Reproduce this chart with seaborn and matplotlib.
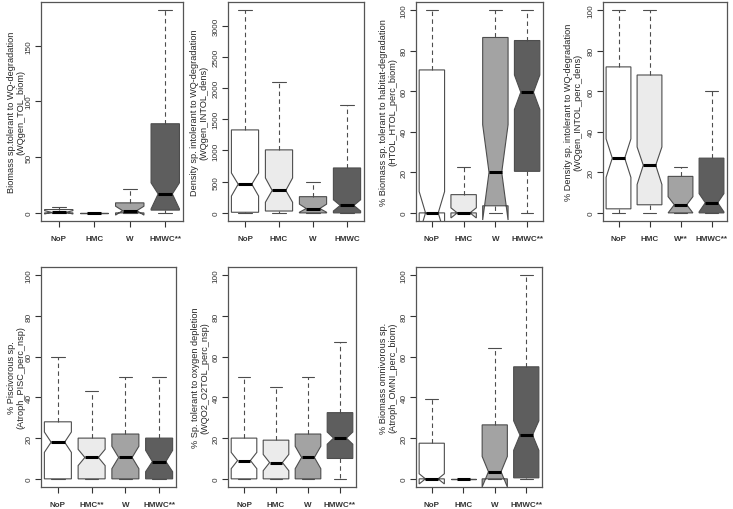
import matplotlib
matplotlib.use("Agg")
import matplotlib.pyplot as plt
import seaborn as sns

# ---- data (box statistics per panel, groups NoP/HMC/W/HMWC) ----
group_labels = [
    ["NoP", "HMC", "W", "HMWC**"],
    ["NoP", "HMC", "W", "HMWC"],
    ["NoP", "HMC", "W", "HMWC**"],
    ["NoP", "HMC", "W**", "HMWC**"],
    ["NoP", "HMC**", "W", "HMWC**"],
    ["NoP", "HMC", "W", "HMWC**"],
    ["NoP", "HMC", "W", "HMWC**"],
]
y_titles = [
    "Biomass sp.tolerant to WQ-degradation\n(WQgen_TOL_biom)",
    "Density sp. intolerant to WQ-degradation\n(WQgen_INTOL_dens)",
    "% Biomass sp. tolerant to habitat-degradation\n(HTOL_HTOL_perc_biom)",
    "% Density sp. intolerant to WQ-degradation\n(WQgen_INTOL_perc_dens)",
    "% Piscivorous sp.\n(Atroph_PISC_perc_nsp)",
    "% Sp. tolerant to oxygen depletion\n(WQO2_O2TOL_perc_nsp)",
    "% Biomass omnivorous sp.\n(Atroph_OMNI_perc_biom)",
]
y_ticks = [
    [0, 50, 100, 150],
    [0, 500, 1000, 1500, 2000, 2500, 3000],
    [0, 20, 40, 60, 80, 100],
    [0, 20, 40, 60, 80, 100],
    [0, 20, 40, 60, 80, 100],
    [0, 20, 40, 60, 80, 100],
    [0, 20, 40, 60, 80, 100],
]
y_range = [(0, 182), (0, 3250), (0, 100), (0, 100), (0, 100), (0, 100), (0, 100)]

medians = [
    [0.5, 0, 2, 17],
    [460, 360, 70, 120],
    [0, 0, 20, 59.5],
    [27, 23.5, 4, 5],
    [18, 10.5, 10.5, 8.5],
    [9, 8, 10.5, 20],
    [0, 0, 3.5, 21.5],
]
lower_q = [
    [0, 0, 0, 2.5],
    [10, 30, 0, 0],
    [0, 0, 3.5, 20.5],
    [2, 4, 0, 0],
    [0, 0, 0, 0],
    [0, 0, 0, 10],
    [0, 0, 0, 0.5],
]
upper_q = [
    [3, 0, 9, 80],
    [1330, 1010, 260, 720],
    [70.5, 9, 86.5, 85],
    [72, 68, 18, 27],
    [28, 20, 22, 20],
    [20, 19, 22, 32.5],
    [17.5, 0, 26.5, 55],
]
whisker_lo = [
    [0, 0, 0, 0],
    [0, 0, 0, 0],
    [0, 0, 0, 0],
    [0, 0, 0, 0],
    [0, 0, 0, 0],
    [0, 0, 0, 0],
    [0, 0, 0, 0],
]
whisker_hi = [
    [5, 0, 21, 182],
    [3250, 2100, 500, 1730],
    [100, 22.5, 100, 100],
    [100, 100, 22.5, 60],
    [60, 43, 50, 50],
    [50, 45, 50, 67],
    [39, 0, 64, 100],
]
notch_lo = [
    [-1, 0, -2, 3.5],
    [270, 170, 10, 30],
    [-10.5, -2.5, -3.5, 51],
    [17.5, 14, 0, 0.5],
    [13, 6.5, 5, 3.5],
    [5, 4, 5, 17],
    [-2.5, 0, -4, 14],
]
notch_hi = [
    [2, 0, 6, 27],
    [640, 560, 140, 210],
    [10.5, 2.5, 43.5, 68],
    [36.5, 32.5, 8, 9.5],
    [23, 14.5, 16, 14],
    [13, 12, 16, 23],
    [2.5, 0, 11, 28.5],
]

box_colors = ["#FFFFFF", "#EBEBEB", "#A3A3A3", "#5E5E5E"]

# axes frames in pixels: left, top, right, bottom
frames = [
    (41, 3, 183, 222),
    (228, 3, 364, 222),
    (416, 3, 543, 222),
    (603, 3, 727, 222),
    (41, 268, 176, 488),
    (228, 268, 356, 488),
    (416, 268, 542, 488),
]
# gap (px) between frame and right edge of the y-title block
title_gap = [16, 20, 19, 21, 16, 19, 19]

sns.set_style("ticks")
plt.rcParams["font.family"] = ["Liberation Sans", "DejaVu Sans"]

W, H = 733, 510
fig = plt.figure(figsize=(W / 100, H / 100), dpi=100)

for i in range(7):
    l, t, r, b = frames[i]
    ax = fig.add_axes([l / W, 1 - b / H, (r - l) / W, (b - t) / H])
    stats = []
    for j in range(4):
        stats.append(
            dict(
                med=medians[i][j],
                q1=lower_q[i][j],
                q3=upper_q[i][j],
                whislo=whisker_lo[i][j],
                whishi=whisker_hi[i][j],
                cilo=notch_lo[i][j],
                cihi=notch_hi[i][j],
                fliers=[],
            )
        )
    art = ax.bxp(
        stats,
        positions=[1, 2, 3, 4],
        widths=0.8,
        capwidths=0.4,
        shownotches=True,
        showfliers=False,
        patch_artist=True,
        boxprops=dict(edgecolor="#4d4d4d", linewidth=0.8),
        medianprops=dict(color="black", linewidth=2.2, solid_capstyle="butt"),
        whiskerprops=dict(color="#4d4d4d", linewidth=0.8, linestyle=(0, (4, 3))),
        capprops=dict(color="#4d4d4d", linewidth=0.8),
    )
    for patch, c in zip(art["boxes"], box_colors):
        patch.set_facecolor(c)

    lo, hi = y_range[i]
    pad = 0.04 * (hi - lo)
    ax.set_ylim(lo - pad, hi + pad)
    ax.set_xlim(0.5, 4.5)
    ax.set_yticks(y_ticks[i])
    ax.set_yticklabels([str(v) for v in y_ticks[i]], rotation=90, va="center", fontsize=5.9)
    ax.set_xticks([1, 2, 3, 4])
    ax.set_xticklabels(group_labels[i], fontsize=5.8, fontweight="bold")
    ax.tick_params(axis="both", direction="out", length=4, width=0.8, colors="#333333")
    ax.tick_params(axis="x", pad=6)
    ax.tick_params(axis="y", pad=2)
    ax.set_ylabel(y_titles[i], fontsize=6.6, linespacing=1.05)
    ax.yaxis.set_label_coords(-title_gap[i] / (r - l), 0.5)
    for s in ax.spines.values():
        s.set_color("#555555")
        s.set_linewidth(0.9)

fig.savefig("out.png", dpi=100)
